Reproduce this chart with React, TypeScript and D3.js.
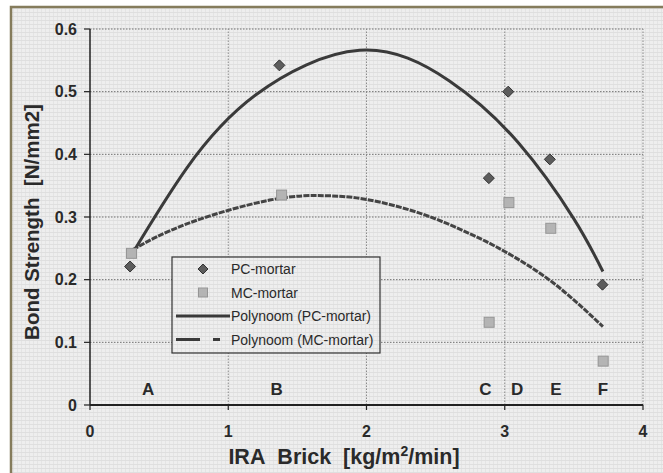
import React from "react";
import * as d3 from "d3";

const pcX = [0.29, 1.37, 2.885, 3.025, 3.326, 3.707];
const pcY = [0.221, 0.542, 0.362, 0.5, 0.392, 0.192];
const mcX = [0.30, 1.386, 2.887, 3.03, 3.333, 3.712];
const mcY = [0.242, 0.335, 0.132, 0.323, 0.282, 0.07];

const pcFitX = [0.31, 0.7, 1.2, 1.95, 2.6, 3.1, 3.5, 3.71];
const pcFitY = [0.243, 0.378, 0.495, 0.566, 0.517, 0.418, 0.297, 0.213];
const mcFitX = [0.31, 0.7, 1.3, 1.7, 2.0, 2.4, 2.75, 3.0, 3.35, 3.71];
const mcFitY = [0.248, 0.289, 0.327, 0.334, 0.328, 0.305, 0.273, 0.245, 0.195, 0.125];

const zoneLabels = ["A", "B", "C", "D", "E", "F"];
const zoneX = [0.42, 1.35, 2.86, 3.09, 3.37, 3.71];
const zoneY = 0.025;

const xTicks = [0, 1, 2, 3, 4];
const yTicks = [0, 0.1, 0.2, 0.3, 0.4, 0.5, 0.6];

const legendLabels = ["PC-mortar", "MC-mortar", "Polynoom (PC-mortar)", "Polynoom (MC-mortar)"];

const W = 663;
const H = 473;
const FONT = "'Liberation Sans', Arial, sans-serif";

export default function App() {
  const x = d3.scaleLinear().domain([0, 4]).range([90, 643]);
  const y = d3.scaleLinear().domain([0, 0.6]).range([405, 29]);

  const line = d3
    .line<[number, number]>()
    .x((d) => x(d[0]))
    .y((d) => y(d[1]))
    .curve(d3.curveNatural);

  const pcFit = pcFitX.map((v, i) => [v, pcFitY[i]] as [number, number]);
  const mcFit = mcFitX.map((v, i) => [v, mcFitY[i]] as [number, number]);

  const diamond = (cx: number, cy: number, r: number) =>
    `M${cx},${cy - r}L${cx + r},${cy}L${cx},${cy + r}L${cx - r},${cy}Z`;

  const lgX = 172;
  const lgY = 257;
  const lgW = 208;
  const lgH = 96;
  const rowY = [269, 292.5, 316, 339.5];

  return (
    <svg
      width={W}
      height={H}
      style={{ position: "absolute", left: 0, top: 0, display: "block" }}
    >
      <defs>
        <pattern id="tex" width="4" height="4" patternUnits="userSpaceOnUse">
          <rect width="4" height="4" fill="#eeeeee" />
          <path d="M0,0.5H4" stroke="#d9d9d9" strokeWidth="1" opacity="0.7" />
          <path d="M1.5,0V4" stroke="#dedede" strokeWidth="1" opacity="0.6" />
        </pattern>
      </defs>
      <rect x={0} y={0} width={W} height={H} fill="#ffffff" />
      <rect x={11} y={7} width={W} height={H} fill="url(#tex)" stroke="#857c5c" strokeWidth={2.5} />

      {/* gridlines */}
      {yTicks.filter((t) => t > 0).map((t) => (
        <line key={"gy" + t} x1={x(0)} x2={x(4)} y1={y(t)} y2={y(t)} stroke="#707070" strokeWidth={1} strokeDasharray="1.5 1.5" />
      ))}
      {xTicks.filter((t) => t > 0).map((t) => (
        <line key={"gx" + t} x1={x(t)} x2={x(t)} y1={y(0)} y2={y(0.6)} stroke="#8a8a8a" strokeWidth={1} strokeDasharray="1.5 1.5" />
      ))}

      {/* axes */}
      <line x1={x(0)} x2={x(0)} y1={y(0)} y2={y(0.6)} stroke="#222" strokeWidth={1.5} />
      <line x1={x(0)} x2={x(4)} y1={y(0)} y2={y(0)} stroke="#222" strokeWidth={2} />
      {yTicks.map((t) => (
        <line key={"ty" + t} x1={x(0) - 6} x2={x(0)} y1={y(t)} y2={y(t)} stroke="#222" strokeWidth={1.2} />
      ))}
      {xTicks.map((t) => (
        <line key={"tx" + t} x1={x(t)} x2={x(t)} y1={y(0)} y2={y(0) + 5} stroke="#222" strokeWidth={1.2} />
      ))}
      {yTicks.map((t) => (
        <text key={"ly" + t} x={x(0) - 13} y={y(t)} dy="0.36em" textAnchor="end" fontFamily={FONT} fontWeight="bold" fontSize={16} fill="#2a2a2a">
          {d3.format(".1~f")(t)}
        </text>
      ))}
      {xTicks.map((t) => (
        <text key={"lx" + t} x={x(t)} y={437} textAnchor="middle" fontFamily={FONT} fontWeight="bold" fontSize={16} fill="#2a2a2a">
          {t}
        </text>
      ))}

      {/* axis titles */}
      <text transform={`translate(32,222) rotate(-90)`} dy="0.36em" textAnchor="middle" fontFamily={FONT} fontWeight="bold" fontSize={20.5} fill="#2a2a2a">
        {"Bond Strength\u00a0 [N/mm2]"}
      </text>
      <text x={344} y={464} textAnchor="middle" fontFamily={FONT} fontWeight="bold" fontSize={21.5} fill="#2a2a2a">
        {"IRA\u00a0 Brick\u00a0 [kg/m"}
        <tspan fontSize={14} dy={-8}>2</tspan>
        <tspan dy={8}>/min]</tspan>
      </text>

      {/* zone letters */}
      {zoneLabels.map((l, i) => (
        <text key={l} x={x(zoneX[i])} y={y(zoneY)} dy="0.36em" textAnchor="middle" fontFamily={FONT} fontWeight="bold" fontSize={17} fill="#2a2a2a">
          {l}
        </text>
      ))}

      {/* trendlines */}
      <path d={line(mcFit) || ""} fill="none" stroke="#444" strokeWidth={3} strokeDasharray="6 1.2" />
      <path d={line(pcFit) || ""} fill="none" stroke="#3a3a3a" strokeWidth={3} />

      {/* markers */}
      {mcX.map((v, i) => (
        <rect key={"mc" + i} x={x(v) - 5} y={y(mcY[i]) - 5} width={10} height={10} fill="#b4b4b4" stroke="#959595" strokeWidth={1} />
      ))}
      {pcX.map((v, i) => (
        <path key={"pc" + i} d={diamond(x(v), y(pcY[i]), 5.5)} fill="#5c5c5c" stroke="#333" strokeWidth={1} />
      ))}

      {/* legend */}
      <rect x={lgX} y={lgY} width={lgW} height={lgH} fill="url(#tex)" stroke="#333" strokeWidth={1.2} />
      <path d={diamond(203, rowY[0], 5)} fill="#5c5c5c" stroke="#333" strokeWidth={1} />
      <rect x={198.5} y={rowY[1] - 4.5} width={9} height={9} fill="#b4b4b4" stroke="#959595" strokeWidth={1} />
      <line x1={176} x2={230} y1={rowY[2]} y2={rowY[2]} stroke="#3a3a3a" strokeWidth={3} />
      <line x1={176} x2={200} y1={rowY[3]} y2={rowY[3]} stroke="#3a3a3a" strokeWidth={3} />
      <line x1={213} x2={220} y1={rowY[3]} y2={rowY[3]} stroke="#3a3a3a" strokeWidth={3} />
      {legendLabels.map((l, i) => (
        <text key={l} x={231} y={rowY[i]} dy="0.36em" fontFamily={FONT} fontSize={14} fill="#2a2a2a">
          {l}
        </text>
      ))}
    </svg>
  );
}
